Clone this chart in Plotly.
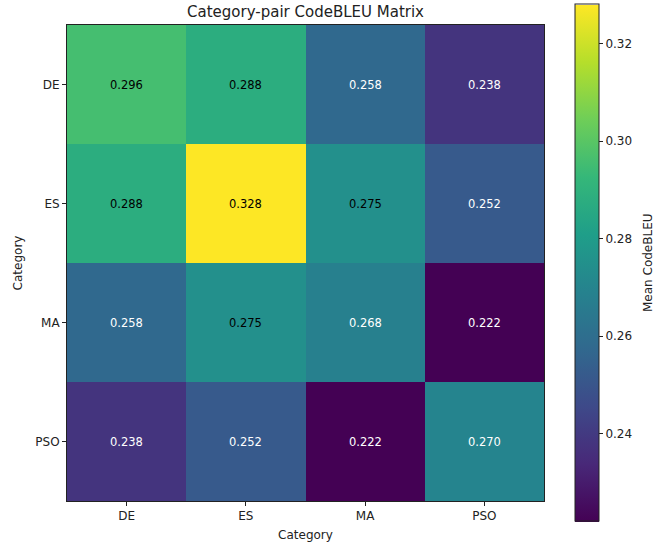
import plotly.graph_objects as go

categories = ["DE", "ES", "MA", "PSO"]
codebleu = [
    [0.296, 0.288, 0.258, 0.238],
    [0.288, 0.328, 0.275, 0.252],
    [0.258, 0.275, 0.268, 0.222],
    [0.238, 0.252, 0.222, 0.270],
]
colorbar_label = "Mean CodeBLEU"

flat = [v for row in codebleu for v in row]
zmin, zmax = min(flat), max(flat)
threshold = (zmin + zmax) / 2

FONT = "DejaVu Sans"
L, R, T, B = 67, 110, 25, 45
PLOT_W = 654 - L - R

fig = go.Figure(
    go.Heatmap(
        z=codebleu,
        x=categories,
        y=categories,
        colorscale="Viridis",
        zmin=zmin,
        zmax=zmax,
        hoverinfo="skip",
        colorbar=dict(
            thickness=24,
            lenmode="pixels",
            len=517,
            ypad=0,
            xpad=0,
            x=(575 - L) / PLOT_W,
            xanchor="left",
            y=0.5,
            yanchor="middle",
            outlinecolor="#222",
            outlinewidth=1,
            ticks="outside",
            ticklen=4,
            tickcolor="#222",
            tickvals=[0.24, 0.26, 0.28, 0.30, 0.32],
            ticktext=["0.24", "0.26", "0.28", "0.30", "0.32"],
            tickfont=dict(size=12, family=FONT, color="#222"),
        ),
    )
)

annotations = []
for i, row_cat in enumerate(categories):
    for j, col_cat in enumerate(categories):
        v = codebleu[i][j]
        annotations.append(
            dict(
                x=col_cat,
                y=row_cat,
                text=f"{v:.3f}",
                showarrow=False,
                font=dict(size=11.5, family=FONT, color="black" if v >= threshold else "white"),
            )
        )

# vertical colorbar label to the right of the tick labels
annotations.append(
    dict(
        text=colorbar_label,
        xref="paper", yref="paper",
        x=(648 - L) / PLOT_W, y=0.5,
        xanchor="center", yanchor="middle",
        textangle=-90,
        showarrow=False,
        font=dict(size=12, family=FONT, color="#222"),
    )
)

fig.update_layout(
    width=654,
    height=546,
    margin=dict(l=L, r=R, t=T, b=B, autoexpand=False),
    paper_bgcolor="white",
    plot_bgcolor="white",
    font=dict(family=FONT, size=12, color="#222"),
    title=dict(
        text="Category-pair CodeBLEU Matrix",
        x=(67 + 544) / 2 / 654,
        xanchor="center",
        y=1 - 12 / 546,
        yanchor="middle",
        font=dict(size=15, family=FONT, color="#222"),
    ),
    annotations=annotations,
    xaxis=dict(
        title=dict(text="Category", standoff=8, font=dict(size=12)),
        showline=True, linecolor="#222", linewidth=1, mirror=True,
        ticks="outside", ticklen=4, tickcolor="#222",
        showgrid=False, zeroline=False,
        tickfont=dict(size=12),
    ),
    yaxis=dict(
        title=dict(text="Category", standoff=10, font=dict(size=12)),
        autorange="reversed",
        showline=True, linecolor="#222", linewidth=1, mirror=True,
        ticks="outside", ticklen=4, tickcolor="#222",
        showgrid=False, zeroline=False,
        tickfont=dict(size=12),
    ),
)

fig.write_html("out.html")
